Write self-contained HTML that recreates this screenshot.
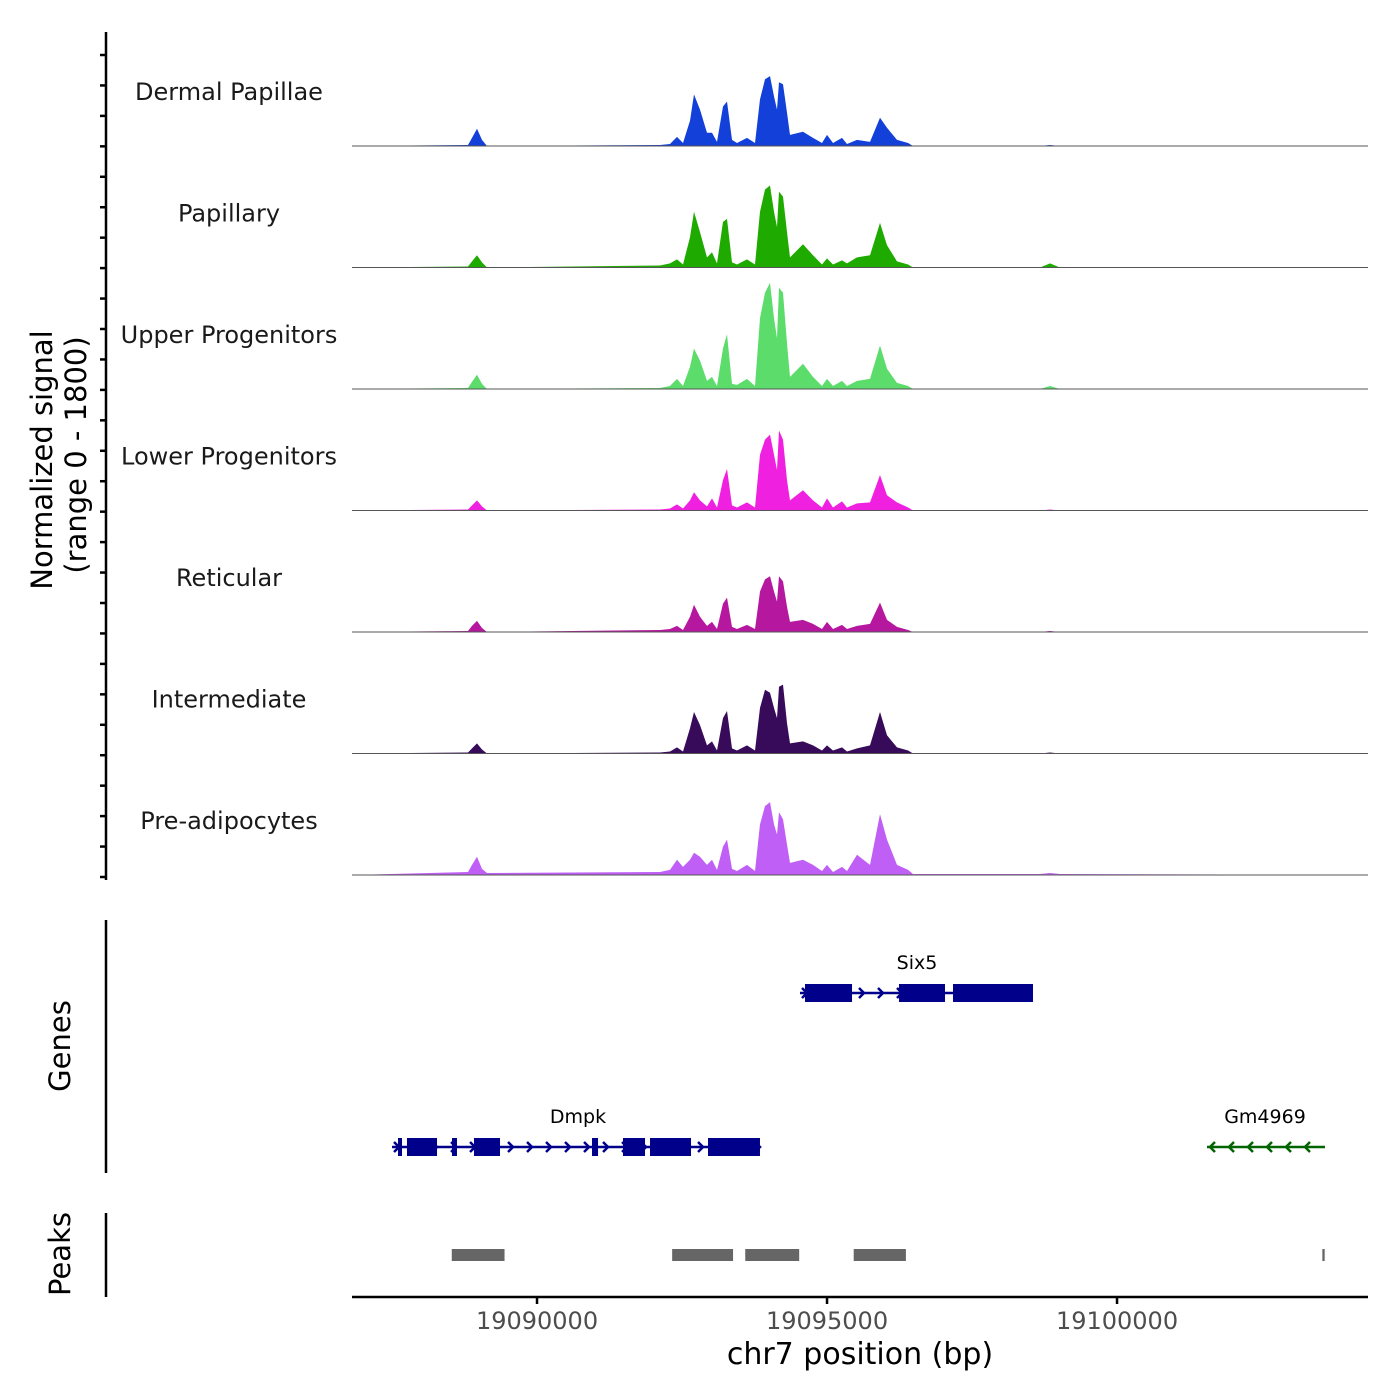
<!DOCTYPE html>
<html><head><meta charset="utf-8"><style>
html,body{margin:0;padding:0;background:#fff}
svg{display:block;font-family:"DejaVu Sans","Liberation Sans",sans-serif}
</style></head><body>
<svg id="chart" width="1400" height="1400" viewBox="0 0 1400 1400" xmlns="http://www.w3.org/2000/svg">
<rect width="1400" height="1400" fill="#fff"/>
<g id="tracks"></g>
<g id="yaxis"><line x1="106" y1="32" x2="106" y2="880" stroke="#000" stroke-width="2.5"/></g>
<text transform="translate(52,460) rotate(-90)" text-anchor="middle" font-size="29">Normalized signal</text>
<text transform="translate(86,455) rotate(-90)" text-anchor="middle" font-size="29">(range 0 - 1800)</text>
<g id="genes"></g>
<line x1="106" y1="920" x2="106" y2="1173" stroke="#000" stroke-width="2.5"/>
<text transform="translate(70,1046) rotate(-90)" text-anchor="middle" font-size="29">Genes</text>
<g id="peaks"></g>
<line x1="106" y1="1213" x2="106" y2="1297" stroke="#000" stroke-width="2.5"/>
<text transform="translate(70,1254) rotate(-90)" text-anchor="middle" font-size="29">Peaks</text>
<g id="xaxis"><line x1="352" y1="1297" x2="1368" y2="1297" stroke="#000" stroke-width="2.5"/></g>
<text x="860" y="1364" text-anchor="middle" font-size="30">chr7 position (bp)</text>
</svg>
<script>
const trackNames = ["Dermal Papillae","Papillary","Upper Progenitors","Lower Progenitors","Reticular","Intermediate","Pre-adipocytes"];
const trackColors = ["#1240d8","#1faa00","#5cdc6a","#f020e0","#b5179e","#380a5a","#bf5ff5"];
const positions = [19086810,19088810,19088879,19088966,19089052,19089138,19092121,19092293,19092414,19092517,19092638,19092707,19092810,19092931,19093017,19093103,19093207,19093276,19093362,19093448,19093621,19093759,19093845,19093931,19094017,19094086,19094138,19094172,19094241,19094310,19094362,19094586,19094759,19094914,19095000,19095103,19095259,19095345,19095517,19095741,19095914,19096034,19096207,19096397,19096483,19098672,19098845,19099017,19104327];
const sigDermal = [0,15,120,255,90,0,15,30,135,45,375,765,540,195,195,60,585,660,90,45,120,45,690,990,1035,735,540,945,915,495,165,210,120,45,165,45,120,30,90,60,420,270,90,45,0,0,15,0,0];
const sigPapillary = [0,15,90,180,75,0,30,60,120,45,450,825,525,150,225,60,675,720,75,45,120,45,825,1155,1215,825,600,1125,1050,525,150,345,180,45,135,45,105,60,150,180,660,330,90,45,0,0,60,0,0];
const sigUpper = [0,15,105,210,75,0,15,45,150,45,330,600,420,120,180,45,600,810,75,60,150,45,1050,1425,1575,1050,750,1500,1425,675,180,375,180,45,150,45,120,45,120,150,645,300,90,45,0,0,45,0,0];
const sigLower = [0,15,75,150,60,0,15,30,90,30,150,270,150,60,180,45,450,615,75,45,120,45,825,1050,1125,825,600,1185,1050,450,150,300,150,45,180,45,135,45,105,120,525,225,120,45,0,0,15,0,0];
const sigReticular = [0,15,90,165,60,0,30,45,90,30,225,405,225,90,150,45,420,510,75,45,105,45,600,780,825,600,450,825,750,375,150,180,120,45,150,45,105,45,90,120,435,180,75,30,0,0,15,0,0];
const sigIntermediate = [0,15,75,150,60,0,15,30,90,30,375,615,420,120,180,45,525,630,75,45,120,45,675,945,900,675,525,990,1020,450,150,180,120,45,120,45,90,30,75,120,615,270,90,45,0,0,15,0,0];
const sigPreadipo = [0,45,150,270,90,30,45,75,225,120,225,330,270,150,225,75,420,525,90,60,150,60,750,1020,1080,750,600,930,825,450,180,225,150,60,150,45,120,60,300,150,900,525,150,75,15,15,30,15,0];
const signals = [sigDermal,sigPapillary,sigUpper,sigLower,sigReticular,sigIntermediate,sigPreadipo];
const xTicks = [19090000,19095000,19100000];
const dmpkExons = [[19087603,19087672],[19087758,19088276],[19088534,19088620],[19088913,19089362],[19090948,19091052],[19091482,19091862],[19091948,19092655],[19092948,19093844]];
const six5Exons = [[19094620,19095431],[19096241,19097034],[19097172,19098551]];
const peakStarts = [19088530,19092330,19093590,19095460,19103540];
const peakEnds = [19089440,19093380,19094520,19096360,19103580];

const NS="http://www.w3.org/2000/svg";
const X0=352,X1=1368,BP0=19086810,BP1=19104327;
function xs(bp){return X0+(bp-BP0)/(BP1-BP0)*(X1-X0);}
const TH=121.5, B0=146;
function ys(v,i){return B0+i*TH - v/1800*TH;}
function mk(tag,attrs,parent){const e=document.createElementNS(NS,tag);for(const k in attrs)e.setAttribute(k,attrs[k]);parent.appendChild(e);return e;}

const tracks=document.getElementById('tracks');
signals.forEach((sig,i)=>{
  const g=mk('g',{},tracks);
  
  
  let d='M'+xs(positions[0])+','+ys(0,i);
  positions.forEach((p,j)=>{d+=' L'+xs(p).toFixed(1)+','+ys(sig[j],i).toFixed(1);});
  d+=' L'+xs(positions[positions.length-1])+','+ys(0,i)+' Z';
  const a=mk('path',{d:d,fill:trackColors[i]},g);
  
  
  const l=mk('line',{x1:X0,x2:X1,y1:ys(0,i),y2:ys(0,i),stroke:'#555','stroke-width':1},g);
  
  
  const t=mk('text',{x:229,y:ys(0,i)-46,'text-anchor':'middle','font-size':24,fill:'#1a1a1a'},g);
  t.textContent=trackNames[i];
  
  
});
const ya=document.getElementById('yaxis');
for(let k=0;k<28;k++){const y=55+k*(877-55)/27;const tk=mk('line',{x1:100,x2:106,y1:y,y2:y,stroke:'#000','stroke-width':2.5},ya);

}

const genes=document.getElementById('genes');
function gene(name,start,end,exons,y,color,dir,lx){
  const g=mk('g',{},genes);
  
  
  mk('line',{x1:xs(start),x2:xs(end),y1:y,y2:y,stroke:color,'stroke-width':2.5},g);
  for(let x=xs(start)+5;x<xs(end);x+=19){
    const p=dir>0?`M${x-3},${y-5} L${x+2},${y} L${x-3},${y+5}`:`M${x+3},${y-5} L${x-2},${y} L${x+3},${y+5}`;
    mk('path',{d:p,stroke:color,'stroke-width':2.5,fill:'none'},g);
  }
  exons.forEach(e=>{const r=mk('rect',{x:xs(e[0]),y:y-9,width:xs(e[1])-xs(e[0]),height:18,fill:color},g);
    
    });
  const t=mk('text',{x:lx,y:y-24,'text-anchor':'middle','font-size':19,fill:'#000'},g);
  t.textContent=name;
  
  
}
gene('Six5',19094534,19098551,six5Exons,993,'#00008b',1,917);
gene('Dmpk',19087500,19093844,dmpkExons,1147,'#00008b',1,578);
gene('Gm4969',19101551,19103585,[],1147,'#006400',-1,1265);

const peaks=document.getElementById('peaks');
peakStarts.forEach((s,i)=>{const r=mk('rect',{x:xs(s),y:1249,width:Math.max(2,xs(peakEnds[i])-xs(s)),height:12,fill:'#666'},peaks);

});

const xa=document.getElementById('xaxis');
xTicks.forEach(v=>{const x=xs(v);
const tk=mk('line',{x1:x,x2:x,y1:1297,y2:1304,stroke:'#000','stroke-width':2.5},xa);


const t=mk('text',{x:x,y:1329,'text-anchor':'middle','font-size':24,fill:'#4d4d4d'},xa);
t.textContent=v;

});
</script>
</body></html>
